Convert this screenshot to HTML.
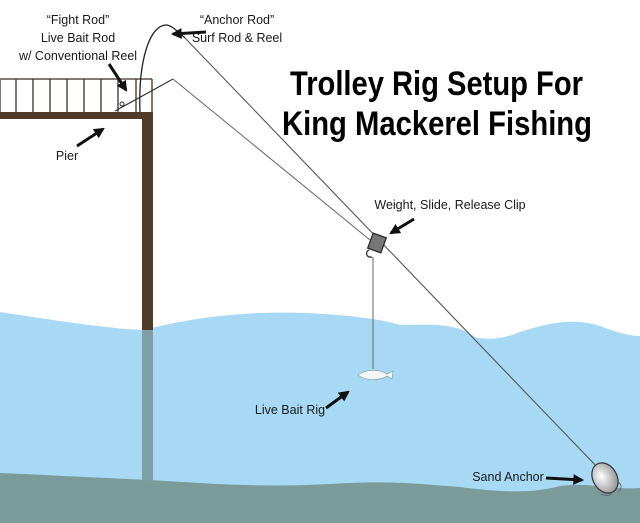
<!DOCTYPE html>
<html><head><style>html,body{margin:0;padding:0;background:#fff}svg{display:block}</style></head>
<body>
<svg width="640" height="523" viewBox="0 0 640 523" xmlns="http://www.w3.org/2000/svg" font-family="Liberation Sans, sans-serif">
<defs>
<marker id="ah" viewBox="0 0 10 10" refX="8" refY="5" markerWidth="3.6" markerHeight="3.6" orient="auto"><path d="M0,0 L10,5 L0,10 z" fill="#111"/></marker>
<radialGradient id="ag" cx="0.4" cy="0.4" r="0.7"><stop offset="0" stop-color="#fff"/><stop offset="1" stop-color="#8a8a8a"/></radialGradient>
</defs>
<path d="M0,312 C40,318 100,328 142,330 C170,324 200,316 260,313 C320,311 380,318 400,325 C430,325 455,322 475,337 C490,341 505,338 520,332 C550,322 575,318 600,326 C615,332 630,336 640,336 L640,523 L0,523 Z" fill="#a7d9f5"/>
<path d="M0,473 C50,475 100,478 150,480 C200,483 260,488 330,484 C390,480 420,484 460,487 C500,492 530,494 560,486 C590,482 610,490 640,488 L640,523 L0,523 Z" fill="#7b9b9b"/>
<rect x="142" y="329" width="11" height="152" fill="#7e9fa8"/>
<rect x="142" y="112" width="11" height="218" fill="#4f3b28"/>
<rect x="0" y="112" width="153" height="7" fill="#4f3b28"/>
<g stroke="#3a2e22" stroke-width="1.3">
<line x1="0" y1="79" x2="152" y2="79"/>
<line x1="0" y1="80" x2="0" y2="112"/>
<line x1="16" y1="79" x2="16" y2="112"/><line x1="33" y1="79" x2="33" y2="112"/><line x1="50" y1="79" x2="50" y2="112"/><line x1="67" y1="79" x2="67" y2="112"/><line x1="84" y1="79" x2="84" y2="112"/><line x1="101" y1="79" x2="101" y2="112"/><line x1="118" y1="79" x2="118" y2="112"/><line x1="136" y1="79" x2="136" y2="112"/><line x1="152" y1="79" x2="152" y2="112"/>
</g>
<path d="M140,112 C138,60 150,24 167,25 C172,26 176,30 185,38" fill="none" stroke="#222" stroke-width="1.3"/>
<line x1="185" y1="38" x2="600" y2="470" stroke="#555" stroke-width="1.1"/>
<line x1="115" y1="111" x2="173" y2="79" stroke="#333" stroke-width="1.2"/>
<line x1="173" y1="79" x2="370" y2="240" stroke="#666" stroke-width="1"/>
<circle cx="122" cy="104" r="2" fill="none" stroke="#333"/>
<g transform="translate(377,243) rotate(20)"><rect x="-7" y="-8" width="14" height="16" fill="#777" stroke="#222" stroke-width="1.2"/></g>
<path d="M369,250 C365,252 366,258 372,257" fill="none" stroke="#333" stroke-width="1.3"/>
<line x1="373" y1="257" x2="373" y2="369" stroke="#666" stroke-width="1"/>
<path d="M358,375 C365,369 380,369 387,374 L393,371 L392,379 L387,376 C380,381 365,381 358,375 Z" fill="#f4f6f8" stroke="#8aa" stroke-width="0.8"/>
<ellipse cx="605" cy="478" rx="12" ry="16" transform="rotate(-30 605 478)" fill="url(#ag)" stroke="#333" stroke-width="1.2"/>
<path d="M618,482 c4,2 4,8 0,10 M601,494 c4,2 8,2 10,0" fill="none" stroke="#667" stroke-width="1"/>
<g stroke="#111" stroke-width="3" fill="none" marker-end="url(#ah)">
<line x1="206" y1="32" x2="173" y2="34"/>
<line x1="109" y1="64" x2="126" y2="90"/>
<line x1="77" y1="146" x2="103" y2="129"/>
<line x1="414" y1="219" x2="391" y2="233"/>
<line x1="326" y1="408" x2="348" y2="392"/>
<line x1="546" y1="478" x2="582" y2="480"/>
</g>
<g fill="#1a1a1a" font-size="12.5" text-anchor="middle">
<text x="78" y="24">“Fight Rod”</text>
<text x="78" y="42">Live Bait Rod</text>
<text x="78" y="60">w/ Conventional Reel</text>
<text x="237" y="24">“Anchor Rod”</text>
<text x="237" y="42">Surf Rod &amp; Reel</text>
<text x="67" y="160">Pier</text>
<text x="450" y="209">Weight, Slide, Release Clip</text>
<text x="290" y="414">Live Bait Rig</text>
<text x="508" y="481">Sand Anchor</text>
</g>
<g font-weight="bold" font-size="34" fill="#000">
<text x="290" y="95" textLength="293" lengthAdjust="spacingAndGlyphs">Trolley Rig Setup For</text>
<text x="282" y="135" textLength="310" lengthAdjust="spacingAndGlyphs">King Mackerel Fishing</text>
</g>
</svg>
</body></html>
